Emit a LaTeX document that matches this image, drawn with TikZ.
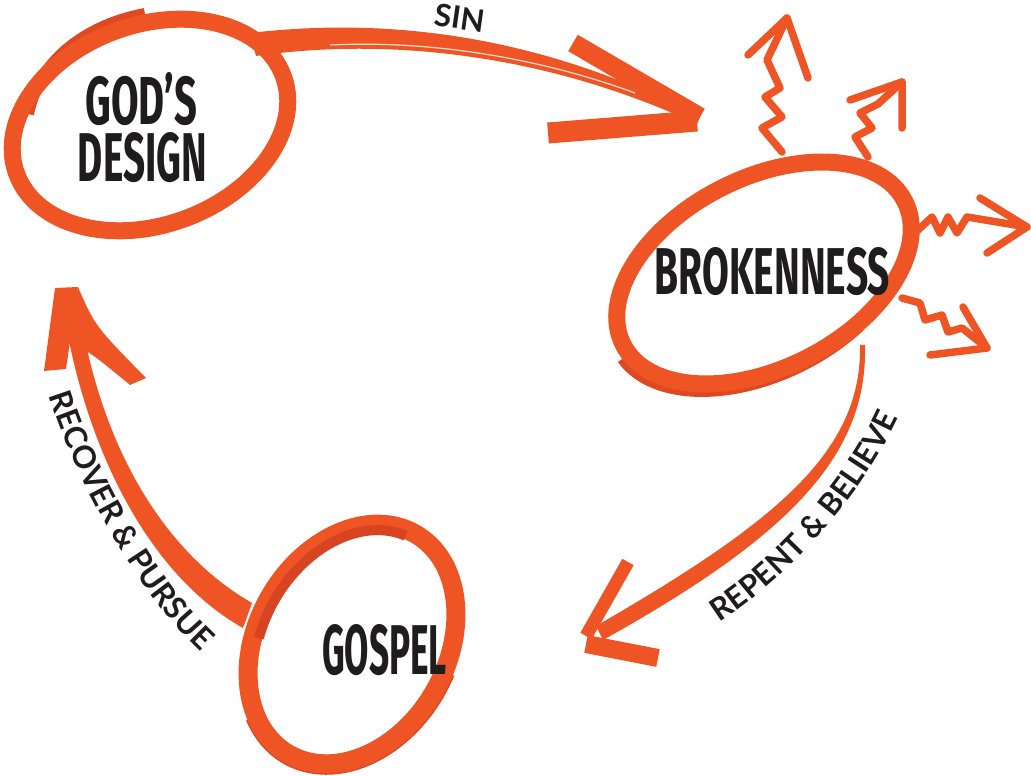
\documentclass[tikz,border=0pt]{standalone}
\usepackage{fontspec}
\usetikzlibrary{shapes.geometric,decorations.text}
\newfontfamily\condfont{Fira Sans}
\newfontfamily\labfont{Lato}
\definecolor{org}{RGB}{238,84,36}
\definecolor{orgd}{RGB}{222,72,34}
\definecolor{orgdd}{RGB}{216,68,34}
\definecolor{txt}{RGB}{30,28,28}
\tikzset{
  ring/.style={draw=org, ellipse, line width=17pt, inner sep=0pt, outer sep=0pt},
  band/.style={draw=orgd, line width=12pt},
  zig/.style={draw=org, line width=7.5pt, line join=round, line cap=round},
  barbline/.style={draw=org, line cap=butt},
  big/.style={font=\condfont\bfseries, text=txt, anchor=base, inner sep=0pt, outer sep=0pt},
  lab/.style={font=\labfont\bfseries\fontsize{31}{33}\selectfont, text=txt, inner sep=0pt},
  curvelab/.style={decorate, decoration={text along path, text align=center, text color=txt,
     text={|\labfont\bfseries\fontsize{31}{33}\selectfont|#1}}}
}
\begin{document}
\begin{tikzpicture}[x=1pt,y=1pt]
\useasboundingbox (0,0) rectangle (1031,776);

% ---- extra hand-drawn bands ----
\draw[band, line width=12pt] (28,662) .. controls (38,712) and (82,750) .. (145,762);
\begin{scope}[shift={(760,497)}, rotate=27]
  \draw[band, line width=14pt] (185:158 and 95) arc[start angle=185, end angle=295, x radius=158, y radius=95];
\end{scope}
\begin{scope}[shift={(352,132)}, rotate=60]
  \draw[band, line width=12pt] (150:132 and 100) arc[start angle=150, end angle=280, x radius=132, y radius=100];
\end{scope}

% ---- lightning squiggles ----
\draw[zig] (782,624) -- (762,648) -- (782,659) -- (765,679) -- (780,688) -- (767,716) -- (787,758);
\draw[zig] (748,721) -- (787,758) -- (808,698);
\draw[zig] (868,619) -- (855,639) -- (872,648) -- (860,663) -- (878,672) -- (902,694);
\draw[zig] (850,676) -- (902,694) -- (902,648);
\draw[zig] (918,546) -- (932,559) -- (940,543) -- (948,559) -- (957,543) -- (967,559) -- (1027,549);
\draw[zig] (980,578) -- (1027,549) -- (987,523);
\draw[zig] (902,478) -- (920,473) -- (925,456) -- (942,461) -- (948,444) -- (962,448) -- (987,428);
\draw[zig] (963,469) -- (987,428) -- (930,421);

% ---- connector arrows (tapered) ----
% Brokenness -> Gospel
\fill[org] (860,431) .. controls (862,326) and (780,256) .. (596,150) -- (603,136) .. controls (790,240) and (868,321) .. (865,431) -- cycle;
\draw[barbline, line width=13pt] (586,140) -- (628,214);
\draw[barbline, line width=18pt] (586,132) -- (658,118);
% Gospel -> God's design
\fill[org] (62,476) .. controls (80,346) and (140,206) .. (243,148) -- (252,173) .. controls (160,226) and (98,336) .. (78,476) -- cycle;
\fill[org] (55,488) -- (78,489) -- (66,407) -- (44,405) -- cycle;
\fill[org] (78,489) .. controls (95,450) .. (146,398) -- (130,391) .. controls (95,420) .. (68,436) -- cycle;

% ---- rings ----
\node[ring, minimum width=284pt, minimum height=200pt, rotate=20] (design) at (150,651) {};
\node[ring, minimum width=316pt, minimum height=190pt, rotate=27] (broken) at (764,503) {};
\node[ring, line width=19pt, minimum width=254pt, minimum height=190pt, rotate=60] (gospel) at (352,132) {};
\begin{scope}[shift={(352,132)}, rotate=60]
  \draw[draw=orgdd, line width=10pt] (5:121 and 89) arc[start angle=5, end angle=110, x radius=121, y radius=89];
\end{scope}

% God's design -> Brokenness (SIN)
\fill[org] (250,743) .. controls (360,756) and (520,752) .. (700,659) -- (697,652) .. controls (540,725) and (380,738) .. (256,720) -- cycle;
\draw[white, line width=1.2pt, opacity=0.8] (330,731) .. controls (430,736) and (540,718) .. (635,683);
\draw[barbline, line width=19pt] (573,733) -- (700,659);
\draw[barbline, line width=21pt] (548,643) -- (697,655);

% ---- texts ----
\node[big] (t1) at (141.5,651) {\resizebox{112pt}{52pt}{GOD’S}};
\node[big] (t2) at (142.5,594) {\resizebox{129pt}{49pt}{DESIGN}};
\node[big] (t3) at (772.5,481) {\resizebox{235pt}{47pt}{BROKENNESS}};
\node[big] (t4) at (384.5,101) {\resizebox{125pt}{50pt}{GOSPEL}};
\node[lab, rotate=-8] (sin) at (460,758) {SIN};
\path[curvelab={REPENT {\&} BELIEVE}] (703,144) .. controls (765,178) and (862,268) .. (906,376);
\path[curvelab={RECOVER {\&} PURSUE}] (45,392) .. controls (72,300) and (140,176) .. (210,116);
\end{tikzpicture}
\end{document}
